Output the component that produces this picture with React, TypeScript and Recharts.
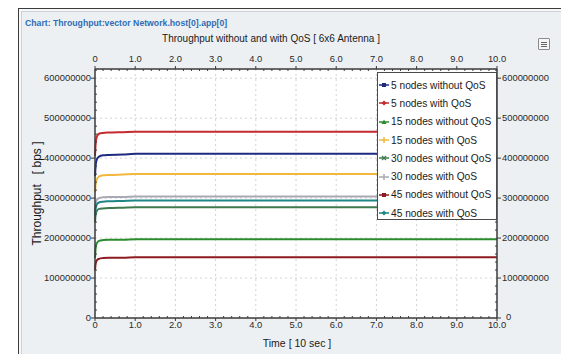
import { LineChart, Line, XAxis, YAxis, CartesianGrid } from 'recharts';

// sample times, in units of 10 s
const times = [0, 0.02, 0.05, 0.1, 0.2, 0.35, 0.7, 1.0, 10.0];

// throughput per run, bps
const nodes5NoQos = [355e6, 385e6, 398e6, 404e6, 407e6, 408e6, 409e6, 411e6, 411e6];
const nodes5Qos = [405e6, 440e6, 455e6, 461e6, 463e6, 464e6, 465e6, 466e6, 466e6];
const nodes15NoQos = [150e6, 178e6, 188e6, 193e6, 195e6, 196e6, 196e6, 197e6, 197e6];
const nodes15Qos = [315e6, 338e6, 348e6, 354e6, 357e6, 358e6, 359e6, 360e6, 360e6];
const nodes30NoQos = [240e6, 262e6, 269e6, 273e6, 274e6, 275e6, 276e6, 277e6, 277e6];
const nodes30Qos = [265e6, 288e6, 296e6, 300e6, 302e6, 303e6, 303e6, 304e6, 304e6];
const nodes45NoQos = [120e6, 138e6, 145e6, 148e6, 150e6, 151e6, 151e6, 152e6, 152e6];
const nodes45Qos = [255e6, 276e6, 285e6, 289e6, 291e6, 292e6, 293e6, 294e6, 294e6];

const xMajor = [0, 1, 2, 3, 4, 5, 6, 7, 8, 9, 10];
const yMajor = [0, 100e6, 200e6, 300e6, 400e6, 500e6, 600e6];

const xTicks = Array.from({ length: 51 }, (_, i) => Math.round(i * 2) / 10);
const yTicks = Array.from({ length: 32 }, (_, i) => i * 20e6);

type Marker = 'square' | 'diamond' | 'triangle' | 'plus' | 'cross';

const series: { key: string; name: string; color: string; marker: Marker; values: number[] }[] = [
  { key: 'n5NoQos', name: '5 nodes without QoS', color: '#1e2a80', marker: 'square', values: nodes5NoQos },
  { key: 'n5Qos', name: '5 nodes with QoS', color: '#c42a2e', marker: 'diamond', values: nodes5Qos },
  { key: 'n15NoQos', name: '15 nodes without QoS', color: '#2b8c2e', marker: 'triangle', values: nodes15NoQos },
  { key: 'n15Qos', name: '15 nodes with QoS', color: '#f2b73c', marker: 'plus', values: nodes15Qos },
  { key: 'n30NoQos', name: '30 nodes without QoS', color: '#3f7a4e', marker: 'cross', values: nodes30NoQos },
  { key: 'n30Qos', name: '30 nodes with QoS', color: '#a9a9b4', marker: 'plus', values: nodes30Qos },
  { key: 'n45NoQos', name: '45 nodes without QoS', color: '#8e1b1f', marker: 'square', values: nodes45NoQos },
  { key: 'n45Qos', name: '45 nodes with QoS', color: '#1f8585', marker: 'diamond', values: nodes45Qos },
];

const data = times.map((t, i) => {
  const row: Record<string, number> = { t };
  series.forEach((s) => {
    row[s.key] = s.values[i];
  });
  return row;
});

const FONT = '"Liberation Sans", Arial, sans-serif';
const AXIS = '#3a3a3a';
const LABEL = '#2a2a2a';

const fmtX = (v: number) => (v === 0 ? '0' : v.toFixed(1));
const fmtY = (v: number) => String(v);
const isMajorX = (v: number) => Number.isInteger(v);
const isMajorY = (v: number) => v % 100e6 === 0;

// major ticks point outwards with a label, minor ticks point into the plot
const makeTick = (side: 'top' | 'bottom' | 'left' | 'right') => (props: any) => {
  const { x, y, payload } = props;
  const v: number = payload.value;
  const horizontal = side === 'top' || side === 'bottom';
  const major = horizontal ? isMajorX(v) : isMajorY(v);
  const text = horizontal ? fmtX(v) : fmtY(v);
  if (side === 'bottom') {
    return (
      <g>
        <line x1={x} x2={x} y1={y} y2={major ? y + 3 : y - 2} stroke={AXIS} />
        {major && (
          <text x={x} y={y + 10.4} textAnchor="middle" fontSize={9.4} fontFamily={FONT} fill={LABEL}>{text}</text>
        )}
      </g>
    );
  }
  if (side === 'top') {
    return (
      <g>
        <line x1={x} x2={x} y1={y} y2={major ? y - 3 : y + 2} stroke={AXIS} />
        {major && (
          <text x={x} y={y - 7.3} textAnchor="middle" fontSize={9.4} fontFamily={FONT} fill={LABEL}>{text}</text>
        )}
      </g>
    );
  }
  if (side === 'left') {
    return (
      <g>
        <line x1={x} x2={major ? x - 4 : x + 2} y1={y} y2={y} stroke={AXIS} />
        {major && (
          <text x={x - 4} y={y + 3.2} textAnchor="end" fontSize={9.4} fontFamily={FONT} fill={LABEL}>{text}</text>
        )}
      </g>
    );
  }
  // the bottom label on the right axis is pushed clear of the "10.0" tick label
  const atZero = v === 0;
  return (
    <g>
      <line x1={x} x2={major ? x + 4 : x - 2} y1={y} y2={y} stroke={AXIS} />
      {major && (
        <text x={atZero ? x + 9 : x + 5} y={atZero ? y + 1.5 : y + 3} textAnchor="start" fontSize={9.4} fontFamily={FONT} fill={LABEL}>{text}</text>
      )}
    </g>
  );
};

const MarkerGlyph = ({ color, marker }: { color: string; marker: Marker }) => (
  <svg width={11} height={8} style={{ display: 'block', flex: '0 0 auto' }}>
    <line x1={0} x2={10} y1={4} y2={4} stroke={color} strokeWidth={1.5} />
    {marker === 'square' && <rect x={3} y={2} width={4} height={4} fill={color} />}
    {marker === 'diamond' && <path d="M5 1.5 L7.5 4 L5 6.5 L2.5 4 Z" fill={color} />}
    {marker === 'triangle' && <path d="M5 1.5 L7.5 6 L2.5 6 Z" fill={color} />}
    {marker === 'plus' && <path d="M5 1 V7" stroke={color} strokeWidth={1.5} />}
    {marker === 'cross' && <path d="M3 2 L7 6 M7 2 L3 6" stroke={color} strokeWidth={1.2} />}
  </svg>
);

const ChartLegend = () => (
  <div
    style={{
      position: 'absolute',
      left: 377,
      top: 72,
      width: 120,
      height: 148,
      background: '#fff',
      border: '1px solid #4a4a4a',
      paddingTop: 3,
      boxSizing: 'border-box',
      fontFamily: FONT,
      fontSize: 10.2,
      color: '#1a1a1a',
    }}
  >
    {series.map((s) => (
      <div key={s.key} style={{ display: 'flex', alignItems: 'center', height: 18.3, paddingLeft: 1, whiteSpace: 'nowrap' }}>
        <MarkerGlyph color={s.color} marker={s.marker} />
        <span style={{ marginLeft: 1 }}>{s.name}</span>
      </div>
    ))}
  </div>
);

export default function App() {
  return (
    <div style={{ position: 'absolute', left: 0, top: 0, width: 561, height: 354, background: '#fff', overflow: 'hidden' }}>
      {/* window frame */}
      <div
        style={{
          position: 'absolute',
          left: 18,
          top: 8,
          width: 543,
          height: 346,
          borderLeft: '1px solid #3c3c3c',
          borderTop: '1px solid #3c3c3c',
          background: '#edf0f3',
          boxShadow: 'inset 2px 2px 0 #f7f8fa, inset 3px 3px 0 #cdd2d8',
        }}
      />
      {/* toolbar button */}
      <div
        style={{
          position: 'absolute',
          left: 538,
          top: 38,
          width: 10,
          height: 10,
          border: '1px solid #8c8c8c',
          background: '#f5f5f5',
          borderRadius: 1,
        }}
      >
        {[2.5, 4.5, 6.5].map((t) => (
          <div key={t} style={{ position: 'absolute', left: 2, top: t, width: 6, height: 1, background: '#666' }} />
        ))}
      </div>

      <div style={{ position: 'absolute', left: 0, top: 0 }}>
        <LineChart width={561} height={354} data={data} margin={{ top: 0, right: 0, bottom: 0, left: 0 }}>
          <CartesianGrid
            xAxisId="b"
            yAxisId="l"
            fill="#ffffff"
            stroke="#d2d2d2"
            strokeDasharray="2 3"
            horizontalValues={yMajor.filter((v) => v > 0)}
            verticalValues={xMajor.filter((v) => v > 0 && v < 10)}
          />
          <XAxis
            xAxisId="b"
            orientation="bottom"
            type="number"
            dataKey="t"
            domain={[0, 10]}
            ticks={xTicks}
            interval={0}
            height={36}
            tickSize={0}
            tickMargin={0}
            axisLine={{ stroke: AXIS, strokeWidth: 1.5 }}
            tick={makeTick('bottom')}
          />
          <XAxis
            xAxisId="t"
            orientation="top"
            type="number"
            dataKey="t"
            domain={[0, 10]}
            ticks={xTicks}
            interval={0}
            height={69}
            tickSize={0}
            tickMargin={0}
            axisLine={{ stroke: AXIS, strokeWidth: 1.5 }}
            tick={makeTick('top')}
          />
          <YAxis
            yAxisId="l"
            orientation="left"
            type="number"
            domain={[0, 623e6]}
            allowDataOverflow
            ticks={yTicks}
            interval={0}
            width={95}
            tickSize={0}
            tickMargin={0}
            axisLine={{ stroke: AXIS, strokeWidth: 1.5 }}
            tick={makeTick('left')}
          />
          <YAxis
            yAxisId="r"
            orientation="right"
            type="number"
            domain={[0, 623e6]}
            allowDataOverflow
            ticks={yTicks}
            interval={0}
            width={64}
            tickSize={0}
            tickMargin={0}
            axisLine={{ stroke: AXIS, strokeWidth: 1.5 }}
            tick={makeTick('right')}
          />
          {series.map((s) => (
            <Line
              key={s.key}
              xAxisId="b"
              yAxisId="l"
              type="monotone"
              dataKey={s.key}
              name={s.name}
              stroke={s.color}
              strokeWidth={2}
              dot={false}
              isAnimationActive={false}
            />
          ))}
        </LineChart>
      </div>

      {/* titles */}
      <svg width={561} height={354} style={{ position: 'absolute', left: 0, top: 0, pointerEvents: 'none' }}>
        <text x={25} y={25.5} fontSize={8.7} fontWeight="bold" fontFamily={FONT} fill="#2f6db5">
          Chart: Throughput:vector Network.host[0].app[0]
        </text>
        <text x={271} y={41.5} textAnchor="middle" fontSize={10} fontFamily={FONT} fill="#1a1a1a">
          Throughput without and with QoS [ 6x6 Antenna ]
        </text>
        <text x={297} y={347} textAnchor="middle" fontSize={10.5} fontFamily={FONT} fill="#1a1a1a">
          Time [ 10 sec ]
        </text>
        <text
          x={36.5}
          y={197.8}
          textAnchor="middle"
          fontSize={12}
          fontFamily={FONT}
          fill="#1a1a1a"
          transform="rotate(-90, 36.5, 193.5)"
          style={{ whiteSpace: 'pre' }}
        >
          {'Throughput   [ bps ]'}
        </text>
      </svg>

      <ChartLegend />
    </div>
  );
}
